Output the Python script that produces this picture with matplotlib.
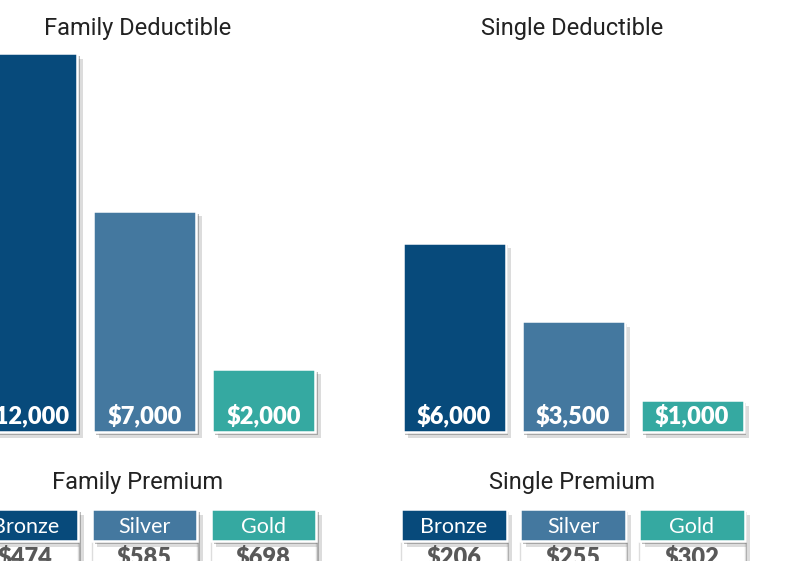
import matplotlib.pyplot as plt
import matplotlib.patheffects as pe

# ------------------ DATA ------------------
tiers = ["Bronze", "Silver", "Gold"]
family_deductible = [12000, 7000, 2000]
single_deductible = [6000, 3500, 1000]
family_premium = [474, 585, 698]
single_premium = [206, 255, 302]

colors = ["#074a7b", "#44789f", "#35a9a1"]

# ------------------ LAYOUT (pixels) ------------------
W, H = 791, 561
step = 119.0                  # px between bar centres
bar_w = 103 / step
base_px = 432                 # bar baseline, px from top
px_per_val = 379 / 12000

fig = plt.figure(figsize=(W / 100, H / 100), dpi=100)

# soft drop shadow: two offset layers
shadow = [pe.SimplePatchShadow(offset=(4, -4), shadow_rgbFace="#777777", alpha=0.25),
          pe.SimplePatchShadow(offset=(2, -2), shadow_rgbFace="#555555", alpha=0.4),
          pe.Normal()]


def add_axes(left_px, right_px, first_centre_px, bottom_px, top_px):
    ax = fig.add_axes([left_px / W, (H - bottom_px) / H,
                       (right_px - left_px) / W, (bottom_px - top_px) / H])
    ax.set_xlim((left_px - first_centre_px) / step, (right_px - first_centre_px) / step)
    ax.axis("off")
    return ax


def deductible_panel(values, title, left_px, right_px, centre_px, title_x):
    ax = add_axes(left_px, right_px, centre_px, base_px, 0)
    ax.set_ylim(0, base_px / px_per_val)
    x = range(len(values))
    bars = ax.bar(x, values, width=bar_w, color=colors, edgecolor="white",
                  linewidth=1.8, clip_on=False)
    for b in bars:
        b.set_path_effects(shadow)
    for i, v in enumerate(values):
        ax.text(i, 17 / px_per_val, f"${v:,}", ha="center", va="center",
                color="white", fontsize=17, fontweight="heavy", family="Lato")
    fig.text(title_x / W, 1 - 28 / H, title, ha="center", va="center",
             fontsize=17, color="#222222", family="Roboto")


def premium_panel(values, title, left_px, right_px, centre_px, title_x):
    ax = add_axes(left_px, right_px, centre_px, H, 500)
    ax.set_ylim(0, H - 500)
    x = range(len(values))
    head_lo, head_hi = H - 541, H - 509
    body = ax.bar(x, [head_lo + 30] * 3, bottom=-30, width=bar_w + 0.02,
                  color="white", edgecolor="#dddddd", linewidth=1.0, clip_on=False)
    head = ax.bar(x, [head_hi - head_lo] * 3, bottom=head_lo, width=bar_w + 0.02,
                  color=colors, edgecolor="white", linewidth=1.8, clip_on=False)
    for b in list(body):
        b.set_path_effects(shadow)
    for b in list(head):
        b.set_path_effects(shadow)
    for i, (t, v) in enumerate(zip(tiers, values)):
        ax.text(i, H - 527, t, ha="center", va="center",
                color="white", fontsize=15.5, family="Lato")
        ax.text(i, H - 557, f"${v}", ha="center", va="center",
                color="#595959", fontsize=17, fontweight="heavy", family="Lato")
    fig.text(title_x / W, 1 - 483 / H, title, ha="center", va="center",
             fontsize=17, color="#222222", family="Roboto")


deductible_panel(family_deductible, "Family Deductible", 0, 340, 25.5, 138)
deductible_panel(single_deductible, "Single Deductible", 380, 791, 454, 572)
premium_panel(family_premium, "Family Premium", 0, 340, 25.5, 138)
premium_panel(single_premium, "Single Premium", 380, 791, 454, 572)

fig.savefig("out.png", dpi=100)
